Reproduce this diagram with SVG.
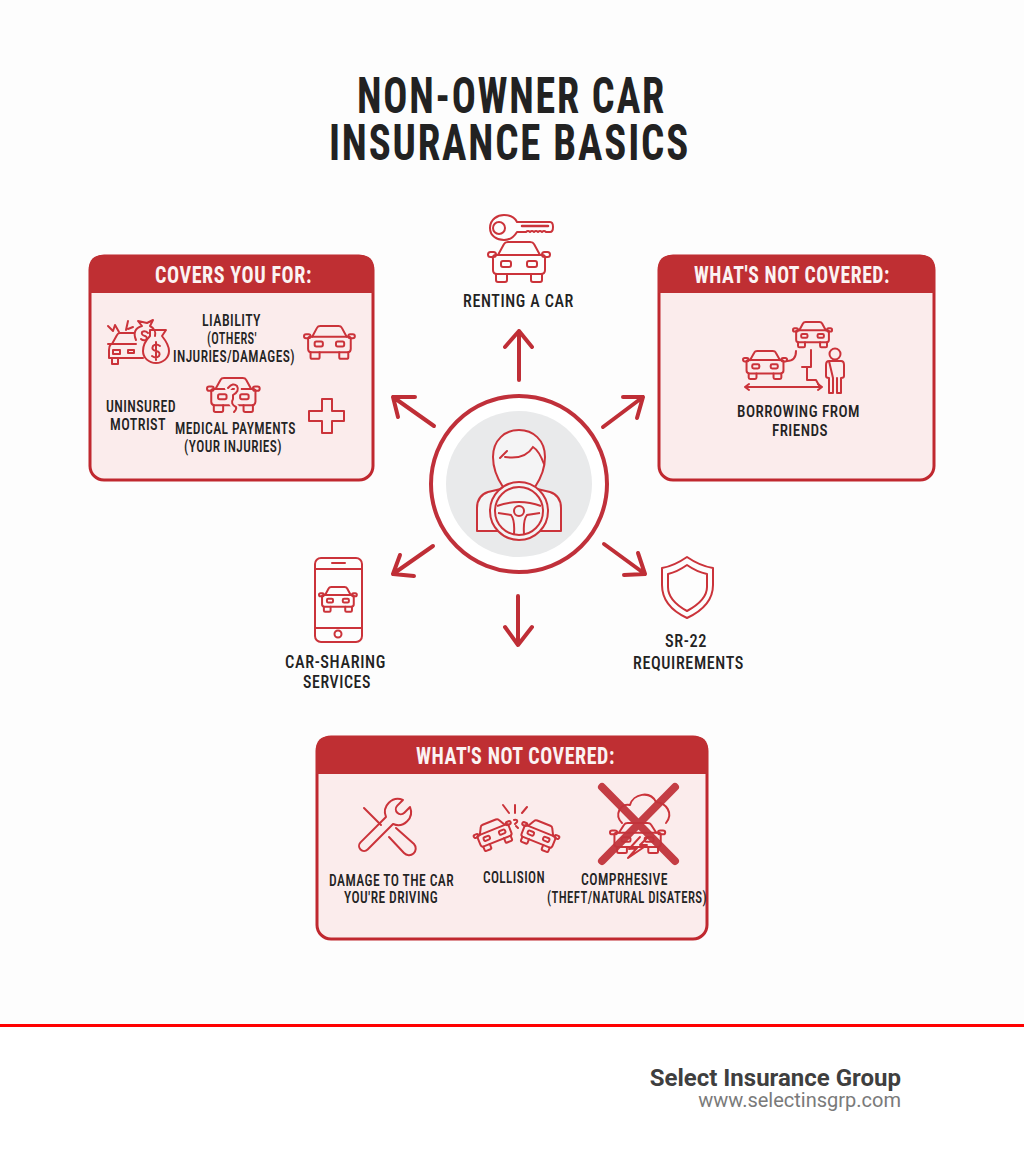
<svg xmlns="http://www.w3.org/2000/svg" width="1024" height="1154" viewBox="0 0 1024 1154">
<style>
text{font-family:"Roboto Condensed","Liberation Sans Narrow",Roboto,"Liberation Sans",sans-serif;font-weight:700;fill:#232323}
.s{font-size:16px;font-weight:500;letter-spacing:.5px}
.m{font-size:18.5px;font-weight:500;letter-spacing:.7px}
.h{font-size:24px;fill:#fbf3f3;font-weight:700;letter-spacing:.7px}
.ttl{font-size:50px;fill:#222;letter-spacing:2.2px}
.i,.i *{fill:none;stroke:#cb333a;stroke-width:2;stroke-linecap:round;stroke-linejoin:round}
.th *{vector-effect:non-scaling-stroke}
.panel{fill:#fbecec;stroke:#c0282f;stroke-width:3}
.head{fill:#bf2f33}
.a{fill:none;stroke:#bf2e36;stroke-width:4;stroke-linecap:round;stroke-linejoin:round}
.f{font-family:Roboto,"Liberation Sans",sans-serif}
</style>
<defs>
<g id="car" class="th">
<path d="M10 13L16 2Q17 0 20 0H42Q45 0 46 2L52 13"/>
<path d="M8 13H54Q58 13 57 17V28Q57 32 53 32H9Q5 32 5 28V17Q4 13 8 13Z"/>
<rect x="0" y="10" width="8" height="5" rx="2.5"/>
<rect x="54" y="10" width="8" height="5" rx="2.5"/>
<rect x="13" y="19" width="10" height="6" rx="2"/>
<rect x="39" y="19" width="10" height="6" rx="2"/>
<path d="M8 32V38Q8 40 10 40H17Q19 40 19 38V32M43 32V38Q43 40 45 40H52Q54 40 54 38V32"/>
</g>
</defs>
<rect width="1024" height="1024" fill="#fdfdfd"/>
<rect y="1024" width="1024" height="130" fill="#fff"/>
<g id="title">
<text class="ttl" x="357" y="113" textLength="309" lengthAdjust="spacingAndGlyphs">NON-OWNER CAR</text>
<text class="ttl" x="329" y="160" textLength="361" lengthAdjust="spacingAndGlyphs">INSURANCE BASICS</text>
</g>
<g id="connectors" class="a">
<path d="M519 380V331M505 347L519 331L532 347"/>
<path d="M434 426L393 397M415 397H393L398 417"/>
<path d="M603 427L643 397M623 397H643L637 418"/>
<path d="M433 546L393 574M400 555L393 574L414 576"/>
<path d="M604 544L645 574M638 553L645 574L624 575"/>
<path d="M518 596V645M505 627L518 645L532 627"/>
</g>
<g id="node-driver">
<circle cx="519" cy="484" r="88" fill="#fff" stroke="#c0303a" stroke-width="4"/>
<circle cx="519" cy="484" r="73" fill="#e9eaeb"/>
<g fill="#f4f4f5" stroke="#cb333a" stroke-width="2" stroke-linejoin="round">
<path d="M493 457C493 440 505 430 519 430C533 430 545 440 545 457C545 468 541 478 535 487H503C497 478 493 468 493 457Z"/>
<path d="M477 531V508C477 498 482 494 488 492L505 488H533L550 492C556 494 561 498 561 508V531Z"/>
</g>
<path d="M500 458L507 451M505 457C518 459 528 455 533 447C538 450 541 456 544 464" fill="none" stroke="#cb333a" stroke-width="2" stroke-linecap="round"/>
<circle cx="519" cy="511" r="29" fill="#f4f4f5" stroke="#cb333a" stroke-width="2"/>
<circle cx="519" cy="511" r="24" fill="#f4f4f5" stroke="#cb333a" stroke-width="2"/>
<path d="M497 506Q519 498 541 506M498 513L511 515Q515 520 514 534M540 513L527 515Q523 520 524 534" fill="none" stroke="#cb333a" stroke-width="2"/>
<circle cx="519" cy="511" r="5" fill="#f4f4f5" stroke="#cb333a" stroke-width="2"/>
</g>
<g id="node-renting">
<g class="i">
<path d="M490 228C490 219 498 215 504 215C511 215 515 218 517 222H550Q553 222 553 227Q553 232 550 232H546Q544 230 542 232Q540 230 538 232Q536 230 534 232Q532 230 530 232Q528 230 526 232H517C514 237 510 240 504 240C497 240 490 236 490 228Z"/>
<circle cx="499" cy="228" r="6"/>
<path d="M522 226H548" style="stroke-width:2.5"/>
<use href="#car" transform="translate(488 242)"/>
</g>
<text class="m" x="463" y="307" textLength="111" lengthAdjust="spacingAndGlyphs">RENTING A CAR</text>
</g>
<g id="node-covers">
<rect class="panel" x="90" y="256" width="283" height="224" rx="14"/>
<path class="head" d="M89 293V269Q89 255 103 255H360Q374 255 374 269V293Z"/>
<text class="h" x="155" y="283" textLength="157" lengthAdjust="spacingAndGlyphs">COVERS YOU FOR:</text>
<g class="i">
<path d="M108 344H112L117 335Q118 333 120 333H134M112 344H136M111 344Q109 346 109 350V358H143M112 358V364H118V358M113 350H120V354H113ZM128 350H134V353H128Z"/>
<path d="M108 326L113 331L115 325L119 332M128 321L126 330M128 329L133 327"/>
<path d="M136 340C133 333 135 328 142 326L138 321L147 323L153 320L150 326C154 328 156 332 155 336"/>
<path d="M148 333Q145 330 142 332Q141 335 145 336Q148 337 146 340Q143 341 141 339"/>
<path d="M150 336C145 341 143 346 143 351C143 358 149 363 156 363C163 363 169 358 169 351C169 346 166 341 162 336L166 330L150 330Z"/>
<path d="M160 346Q156 343 153 346Q151 350 156 351Q161 352 159 356Q156 359 152 356M156 342V360"/>
<use href="#car" transform="translate(304 326) scale(.82)"/>
<use href="#car" transform="translate(207 378) scale(.85)"/>
<path d="M228 388Q233 382 237 386Q240 391 233 395V399Q230 404 236 407Q237 409 234 412" style="stroke:#fbecec;stroke-width:6"/>
<path d="M228 388Q233 382 237 386Q240 391 233 395V399Q230 404 236 407Q237 409 234 412"/>
<path d="M309 411H322V399H332V411H344V421H332V433H322V421H309Z"/>
</g>
<text class="s" x="202" y="326" textLength="59" lengthAdjust="spacingAndGlyphs">LIABILITY</text>
<text class="s" x="207" y="344" textLength="50" lengthAdjust="spacingAndGlyphs">(OTHERS'</text>
<text class="s" x="173" y="362" textLength="122" lengthAdjust="spacingAndGlyphs">INJURIES/DAMAGES)</text>
<text class="s" x="106" y="412" textLength="70" lengthAdjust="spacingAndGlyphs">UNINSURED</text>
<text class="s" x="110" y="430" textLength="56" lengthAdjust="spacingAndGlyphs">MOTRIST</text>
<text class="s" x="175" y="434" textLength="121" lengthAdjust="spacingAndGlyphs">MEDICAL PAYMENTS</text>
<text class="s" x="184" y="452" textLength="98" lengthAdjust="spacingAndGlyphs">(YOUR INJURIES)</text>
</g>
<g id="node-borrowing">
<rect class="panel" x="659" y="256" width="275" height="224" rx="14"/>
<path class="head" d="M658 293V269Q658 255 672 255H921Q935 255 935 269V293Z"/>
<text class="h" x="694" y="283" textLength="196" lengthAdjust="spacingAndGlyphs">WHAT'S NOT COVERED:</text>
<g class="i">
<use href="#car" transform="translate(743 351) scale(.71 .7)"/>
<use href="#car" transform="translate(793 322) scale(.63)"/>
<path d="M787 361Q796 361 796 351M811 350V367H802M807 367V380H816L820 387"/>
<path d="M745 387H822M749 384L745 387L749 390M818 384L822 387L818 390"/>
<circle cx="835" cy="354" r="5.5"/>
<path d="M829 361H841Q844 361 844 365V376Q844 378 841 378V393H837V378M833 378V393H829V378Q826 378 826 376V365Q826 361 829 361Z"/>
</g>
<text class="s" x="737" y="417" textLength="123" lengthAdjust="spacingAndGlyphs">BORROWING FROM</text>
<text class="s" x="772" y="436" textLength="56" lengthAdjust="spacingAndGlyphs">FRIENDS</text>
</g>
<g id="node-carsharing">
<g class="i">
<rect x="315" y="558" width="47" height="84" rx="6"/>
<path d="M315 569H362M315 628H362M332 563H345"/>
<circle cx="338" cy="634" r="3.5"/>
<use href="#car" transform="translate(319 587) scale(.61 .62)"/>
</g>
<text class="m" x="285" y="668" textLength="101" lengthAdjust="spacingAndGlyphs">CAR-SHARING</text>
<text class="m" x="303" y="688" textLength="68" lengthAdjust="spacingAndGlyphs">SERVICES</text>
</g>
<g id="node-sr22">
<g class="i">
<path d="M687 557Q674 566 662 568V585C662 600 672 611 687 618C702 611 713 600 713 585V568Q700 566 687 557Z"/>
<path d="M687 565Q677 572 668 574V587C668 597 676 605 687 611C698 605 707 597 707 587V574Q697 572 687 565Z"/>
</g>
<text class="m" x="665" y="647" textLength="42" lengthAdjust="spacingAndGlyphs">SR-22</text>
<text class="m" x="633" y="669" textLength="111" lengthAdjust="spacingAndGlyphs">REQUIREMENTS</text>
</g>
<g id="node-not-covered">
<rect class="panel" x="317" y="737" width="390" height="202" rx="14"/>
<path class="head" d="M316 774V750Q316 736 330 736H694Q708 736 708 750V774Z"/>
<text class="h" x="416" y="764" textLength="199" lengthAdjust="spacingAndGlyphs">WHAT'S NOT COVERED:</text>
<g class="i">
<path transform="translate(398 812) rotate(45)" d="M-5 12A13 13 0 0 1 -5 -12V-4A5 5 0 0 0 5 -4V-12A13 13 0 0 1 5 12V48A5 5 0 0 1 -5 48Z"/>
<path d="M364 808L381 825M389 837L404 853A6 6 0 0 0 414 844L396 828"/>
<use href="#car" transform="translate(494 834) rotate(-22) scale(.64) translate(-31 -20)"/>
<use href="#car" transform="translate(539 835) rotate(22) scale(.64) translate(-31 -20)"/>
<path d="M503 805L509 813M515 805V813M527 807L522 813M514 820Q518 819 517 822L515 824M516 826L518 828"/>
<use href="#car" transform="translate(610 823) scale(.89 .75)"/>
<path d="M622 823C614 815 620 803 630 805C633 794 650 790 656 802C666 803 674 813 666 823"/>
<path d="M640 837L629 849L637 848L628 858L647 845L640 845L648 837"/>
</g>
<path d="M602 787L675 861M675 787L602 861" fill="none" stroke="#c1343b" stroke-width="8" stroke-linecap="round" opacity=".95"/>
<text class="s" x="329" y="886" textLength="125" lengthAdjust="spacingAndGlyphs">DAMAGE TO THE CAR</text>
<text class="s" x="344" y="903" textLength="94" lengthAdjust="spacingAndGlyphs">YOU'RE DRIVING</text>
<text class="s" x="483" y="883" textLength="62" lengthAdjust="spacingAndGlyphs">COLLISION</text>
<text class="s" x="581" y="885" textLength="87" lengthAdjust="spacingAndGlyphs">COMPRHESIVE</text>
<text class="s" x="547" y="903" textLength="160" lengthAdjust="spacingAndGlyphs">(THEFT/NATURAL DISATERS)</text>
</g>
<g id="footer">
<rect y="1024" width="1024" height="3" fill="#ff0000"/>
<text class="f" x="901" y="1086" text-anchor="end" font-size="24" style="fill:#3f3f3f;font-weight:700">Select Insurance Group</text>
<text class="f" x="901" y="1107" text-anchor="end" font-size="20" style="fill:#7a7a7a;font-weight:400">www.selectinsgrp.com</text>
</g>
</svg>
